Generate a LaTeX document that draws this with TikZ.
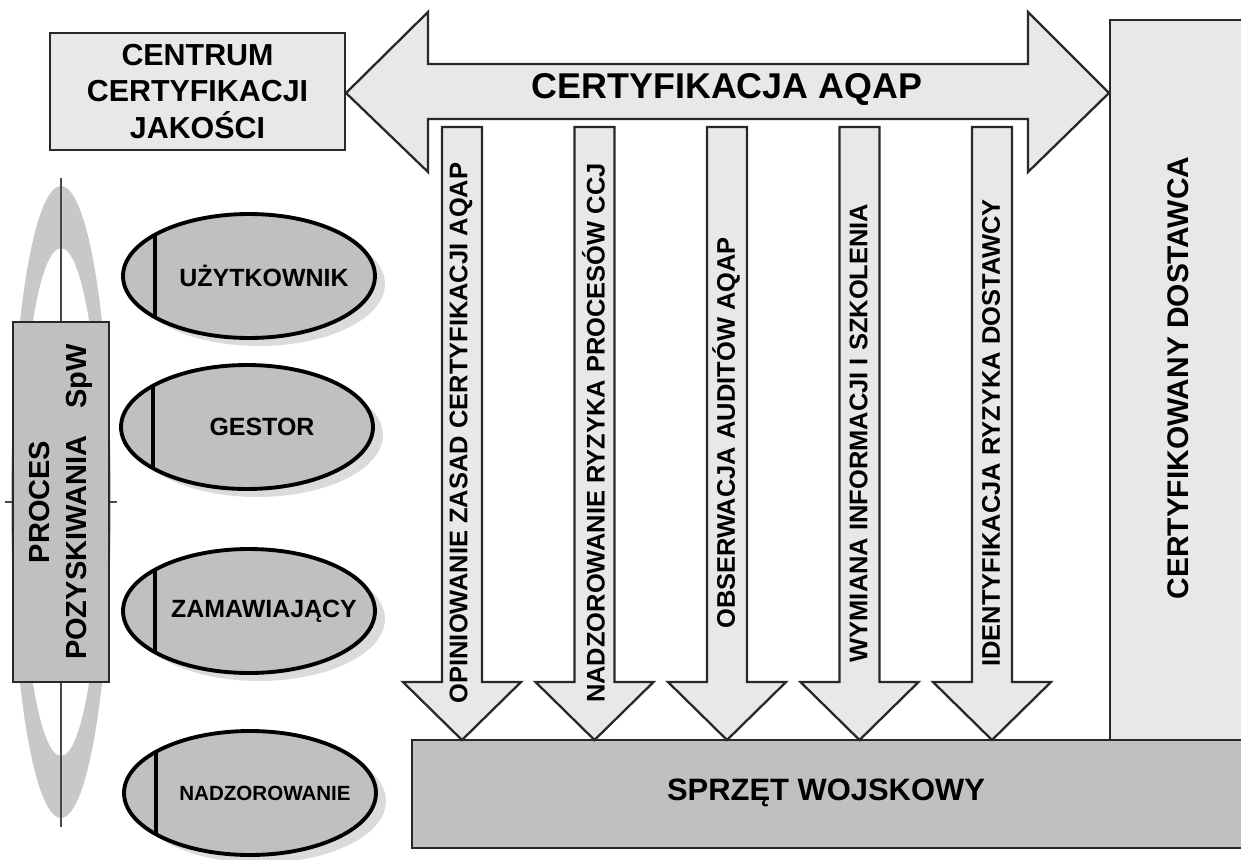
\documentclass[tikz,border=0pt]{standalone}
\usepackage{fontspec}
\setmainfont{Liberation Sans}
\usetikzlibrary{shapes.geometric, shadows}
\definecolor{jasny}{RGB}{232,232,232}
\definecolor{sredni}{RGB}{192,192,192}
\definecolor{pierscien}{RGB}{200,200,200}
\definecolor{linia}{RGB}{40,40,40}

\begin{document}
\begin{tikzpicture}[x=0.02cm,y=-0.02cm,line join=miter,
        box/.style={draw=linia,line width=1.3pt,fill=jasny},
        role/.style={ellipse,draw=black,line width=2.2pt,fill=sredni,inner sep=0pt,
            minimum width=5.04cm,minimum height=2.48cm,
            drop shadow={shadow xshift=0.2cm,shadow yshift=-0.16cm,fill=black!14,opacity=1},
            path picture={\draw[line width=2.2pt]
                ([xshift=0.64cm]path picture bounding box.north west) --
                ([xshift=0.64cm]path picture bounding box.south west);}},
        rolename/.style={font=\bfseries\fontsize{14.2}{16}\selectfont},
        pionowy/.style={rotate=90,font=\bfseries\fontsize{14.5}{17}\selectfont}]
        % tikz code goes here
        \useasboundingbox (0,0) rectangle (1241,859);

        % proces pozyskiwania
        \fill[pierscien,even odd rule] (61,502) ellipse [x radius=1cm,y radius=6.32cm]
                                       (61,502) ellipse [x radius=0.8cm,y radius=5.08cm];
        \draw[linia!85,line width=1pt] (61,178) -- (61,827);
        \draw[linia!85,line width=1pt] (5,502) -- (117,502);
        \node[draw=linia,line width=1.3pt,fill=sredni,rotate=90,align=center,
              minimum width=7.2cm,minimum height=1.92cm,
              font=\bfseries\fontsize{16.5}{21}\selectfont] (proces) at (61,502)
              {PROCES\\POZYSKIWANIA\hspace{0.55cm}SpW};

        \node[box,minimum width=5.9cm,minimum height=2.34cm,align=center,
              font=\bfseries\fontsize{17.3}{21}\selectfont] (ccj) at (197.5,91.5)
              {CENTRUM\\CERTYFIKACJI\\JAKOŚCI};

        % certyfikacja
        \draw[box] (346,93) -- (428,12) -- (428,64) -- (1028,64) -- (1028,12) -- (1109,93)
                   -- (1028,172) -- (1028,119) -- (428,119) -- (428,172) -- cycle;
        \node[font=\bfseries\fontsize{20.4}{24}\selectfont] (aqap) at (727,90) {CERTYFIKACJA AQAP};

        \fill[jasny] (1110,20) rectangle (1241,740);
        \draw[linia,line width=1.3pt] (1241,20) -- (1110,20) -- (1110,740);
        \node[rotate=90,font=\bfseries\fontsize{17}{20}\selectfont] (dost) at (1178,378)
              {CERTYFIKOWANY DOSTAWCA};

        \fill[sredni] (412,740) rectangle (1241,848);
        \draw[linia,line width=1.3pt] (1241,740) -- (412,740) -- (412,848) -- (1241,848);
        \node[font=\bfseries\fontsize{17.6}{20}\selectfont] (sprzet) at (826,793) {SPRZĘT WOJSKOWY};

        \foreach \cx/\txt [count=\i] in {462/{OPINIOWANIE ZASAD CERTYFIKACJI AQAP},
                594.5/{NADZOROWANIE RYZYKA PROCESÓW CCJ},
                727/{OBSERWACJA AUDITÓW AQAP},
                859.5/{WYMIANA INFORMACJI I SZKOLENIA},
                992/{IDENTYFIKACJA RYZYKA DOSTAWCY}}{
            \draw[box] (\cx-20,127) -- (\cx+20,127) -- (\cx+20,682) -- (\cx+59,682)
                       -- (\cx,740) -- (\cx-59,682) -- (\cx-20,682) -- cycle;
            \node[pionowy] (zad\i) at (\cx-1,433) {\txt};
        }

        % uczestnicy
        \node[role] (uzyt) at (249,276) {};
        \node[rolename] at ([xshift=0.3cm]uzyt.center) {UŻYTKOWNIK};
        \node[role] (gestor) at (247,427) {};
        \node[rolename] at ([xshift=0.3cm]gestor.center) {GESTOR};
        \node[role] (zamaw) at (249,611) {};
        \node[rolename] at ([xshift=0.3cm]zamaw.center) {ZAMAWIAJĄCY};
        \node[role] (nadz) at (250,793) {};
        \node[font=\bfseries\fontsize{11.7}{14}\selectfont] at ([xshift=0.3cm]nadz.center) {NADZOROWANIE};

    \end{tikzpicture}
\end{document}
